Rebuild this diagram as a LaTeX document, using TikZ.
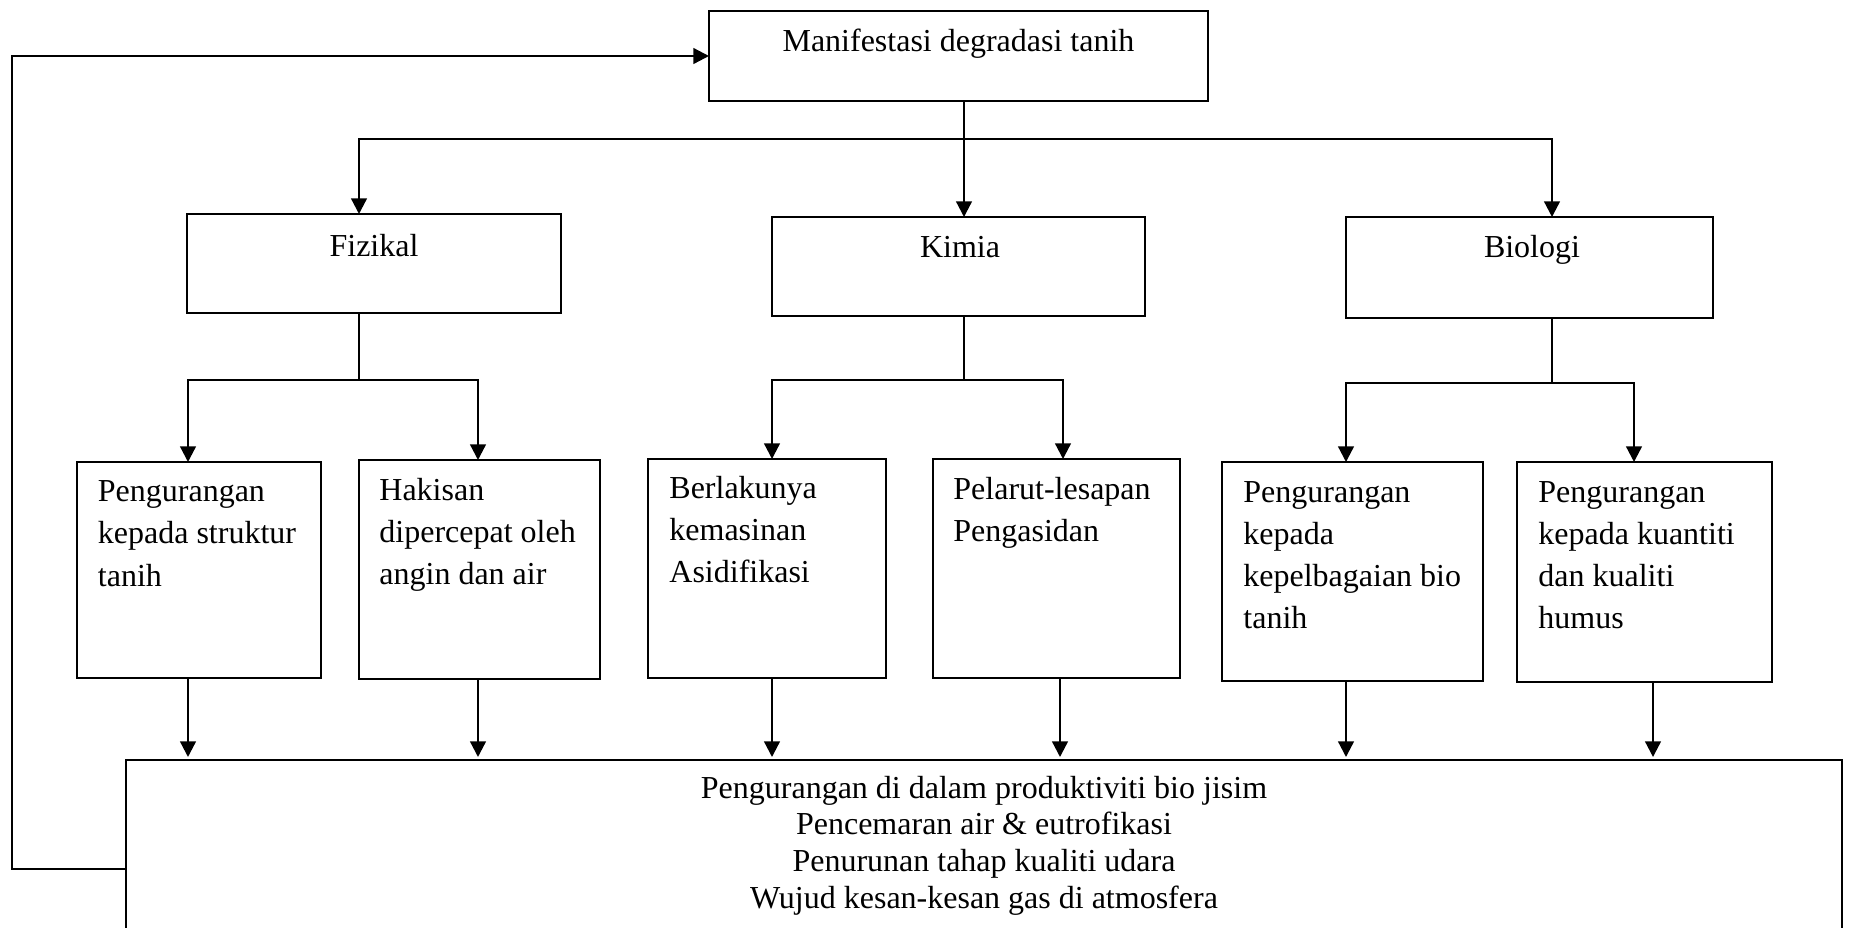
\documentclass[tikz,border=0pt]{standalone}
\usepackage{fontspec}
\setmainfont{Liberation Serif}
\usetikzlibrary{arrows.meta}
\begin{document}
\begin{tikzpicture}[x=1pt,y=-1pt,
  box/.style={draw, line width=0.9pt, rectangle, inner sep=0pt, outer sep=0pt, anchor=north west},
  arr/.style={line width=1.15pt, -{Triangle[length=7.8pt,width=7.8pt]}},
  thinln/.style={line width=0.6pt},
  lbl/.style={inner sep=0pt, font=\fontsize{16}{19}\selectfont},
  ctext/.style={inner sep=0pt, anchor=base west, font=\fontsize{16}{21.15}\selectfont},
  btext/.style={inner sep=0pt, anchor=base, font=\fontsize{16}{18.35}\selectfont}]
\useasboundingbox (0,0) rectangle (926.5,463.5);
\clip (0,0) rectangle (926.5,463.5);

% top
\node[box, minimum width=249.5pt, minimum height=45pt] (top) at (354.5,5.5) {};
\node[lbl, anchor=base] (toptext) at (479.25,25.5) {Manifestasi degradasi tanih};

% level 2
\node[box, minimum width=187pt, minimum height=49.5pt] (fiz) at (93.5,107) {};
\node[lbl, anchor=base] (fizt) at (187,128) {Fizikal};
\node[box, minimum width=186.5pt, minimum height=49.5pt] (kim) at (386,108.5) {};
\node[lbl, anchor=base] (kimt) at (480,128.5) {Kimia};
\node[box, minimum width=183.5pt, minimum height=50.5pt] (bio) at (673,108.5) {};
\node[lbl, anchor=base] (biot) at (766,128.5) {Biologi};

% level 3
\node[box, minimum width=122pt, minimum height=108pt] (c1) at (38.5,231) {};
\node[ctext] (t1) at ([xshift=10.25pt,yshift=-19.8pt]c1.north west) {\parbox[t]{115pt}{\raggedright Pengurangan\\kepada struktur\\tanih}};
\node[box, minimum width=120.5pt, minimum height=109.5pt] (c2) at (179.5,230) {};
\node[ctext] (t2) at ([xshift=10pt,yshift=-20pt]c2.north west) {\parbox[t]{115pt}{\raggedright Hakisan\\dipercepat oleh\\angin dan air}};
\node[box, minimum width=119pt, minimum height=109.5pt] (c3) at (324,229.5) {};
\node[ctext] (t3) at ([xshift=10.5pt,yshift=-19.5pt]c3.north west) {\parbox[t]{115pt}{\raggedright Berlakunya\\kemasinan\\Asidifikasi}};
\node[box, minimum width=123.5pt, minimum height=109.5pt] (c4) at (466.5,229.5) {};
\node[ctext] (t4) at ([xshift=10pt,yshift=-20.2pt]c4.north west) {\parbox[t]{115pt}{\raggedright Pelarut-lesapan\\Pengasidan}};
\node[box, minimum width=130.5pt, minimum height=109.5pt] (c5) at (611,231) {};
\node[ctext] (t5) at ([xshift=10.5pt,yshift=-20pt]c5.north west) {\parbox[t]{125pt}{\raggedright Pengurangan\\kepada\\kepelbagaian bio\\tanih}};
\node[box, minimum width=127.5pt, minimum height=110pt] (c6) at (758.5,231) {};
\node[ctext] (t6) at ([xshift=10.5pt,yshift=-20pt]c6.north west) {\parbox[t]{120pt}{\raggedright Pengurangan\\kepada kuantiti\\dan kualiti\\humus}};

% bottom
\node[box, minimum width=858pt, minimum height=109pt] (bot) at (63,380) {};
\node[btext] (bt) at (492,399) {\parbox[t]{700pt}{\centering Pengurangan di dalam produktiviti bio jisim\\Pencemaran air \& eutrofikasi\\Penurunan tahap kualiti udara\\Wujud kesan-kesan gas di atmosfera}};

% coordinates
\coordinate (j0) at (482,69.5);
\coordinate (h1L) at (179.5,69.5);
\coordinate (h1R) at (776,69.5);
\coordinate (f0) at (179.5,190);
\coordinate (fL) at (94,190);
\coordinate (fR) at (239,190);
\coordinate (k0) at (482,190);
\coordinate (kL) at (386,190);
\coordinate (kR) at (531.5,190);
\coordinate (b0) at (776,191.5);
\coordinate (bL) at (673,191.5);
\coordinate (bR) at (817,191.5);
\coordinate (d4) at (530,380);
\coordinate (d6) at (826.5,380);
\coordinate (fbL) at (6,434.5);
\coordinate (fbT) at (6,28);

% top to level 2
\draw[arr] (top.south -| j0) -- (kim.north -| j0);
\draw[arr] (j0) -- (h1L) -- (h1L |- fiz.north);
\draw[arr] (j0) -- (h1R) -- (h1R |- bio.north);

% level 2 to level 3
\draw[thinln] (fiz.south -| f0) -- (f0);
\draw[arr] (f0) -- (fL) -- (fL |- c1.north);
\draw[arr] (f0) -- (fR) -- (fR |- c2.north);
\draw[thinln] (kim.south -| k0) -- (k0);
\draw[arr] (k0) -- (kL) -- (kL |- c3.north);
\draw[arr] (k0) -- (kR) -- (kR |- c4.north);
\draw[thinln] (bio.south -| b0) -- (b0);
\draw[arr] (b0) -- (bL) -- (bL |- c5.north);
\draw[arr] (b0) -- (bR) -- (bR |- c6.north);

% level 3 to bottom
\draw[arr, shorten >=1.5pt] (c1.south -| fL) -- (bot.north -| fL);
\draw[arr, shorten >=1.5pt] (c2.south -| fR) -- (bot.north -| fR);
\draw[arr, shorten >=1.5pt] (c3.south -| kL) -- (bot.north -| kL);
\draw[arr, shorten >=1.5pt] (c4.south -| d4) -- (d4);
\draw[arr, shorten >=1.5pt] (c5.south -| bL) -- (bot.north -| bL);
\draw[arr, shorten >=1.5pt] (c6.south -| d6) -- (d6);

% feedback
\draw[arr] (bot.west) -- (fbL) -- (fbT) -- (top.west);
\end{tikzpicture}
\end{document}
